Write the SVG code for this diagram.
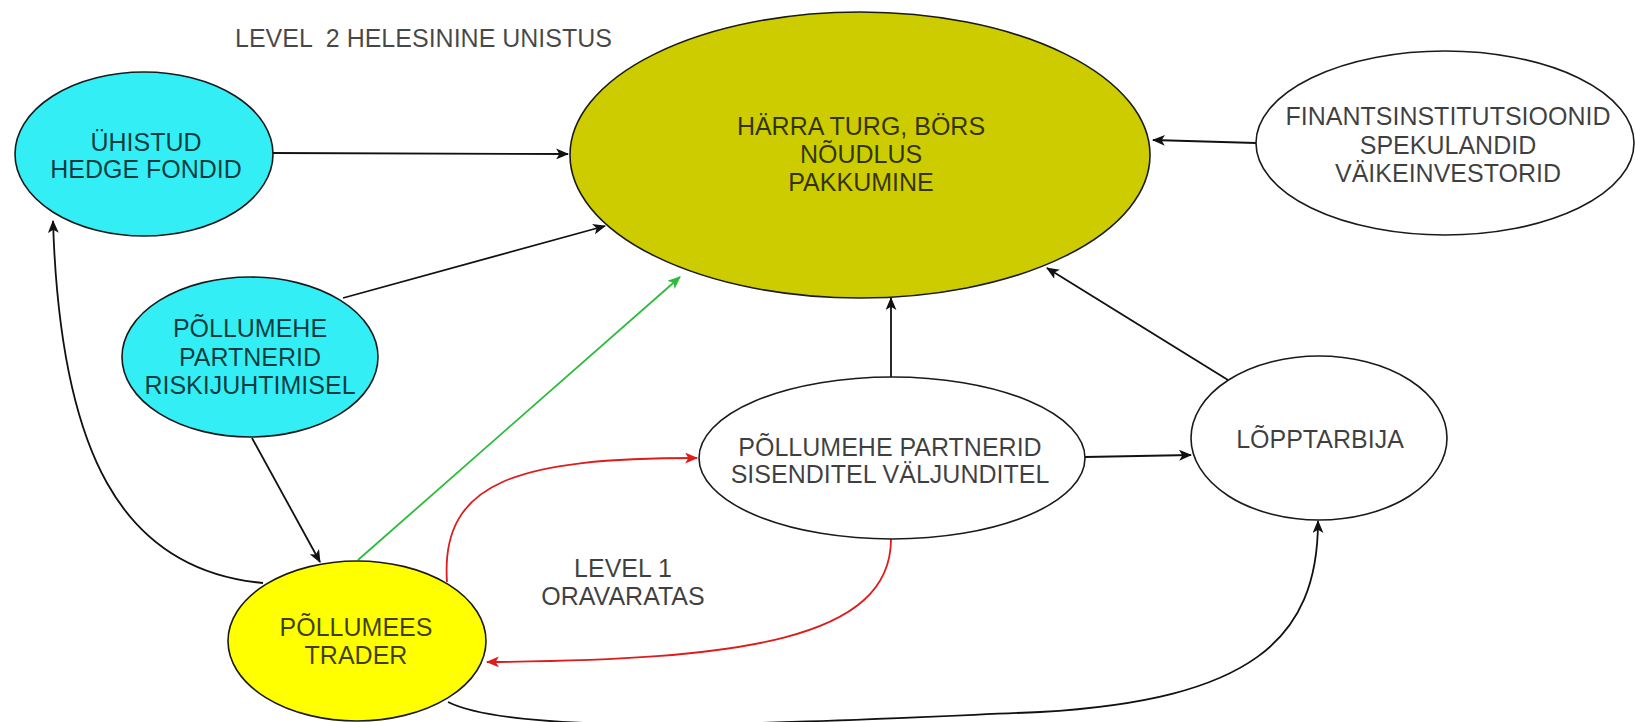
<svg xmlns="http://www.w3.org/2000/svg" width="1635" height="722" viewBox="0 0 1635 722">
<style>
  .node { stroke: #1a1a1a; stroke-width: 1.6; }
  .txt { font-family: "Liberation Sans", Arial, sans-serif; font-size: 25px; text-anchor: middle; fill: #000; fill-opacity: 0.75; }
  .lbl { font-family: "Liberation Sans", Arial, sans-serif; font-size: 25px; fill: #000; fill-opacity: 0.72; }
  .edge { fill: none; stroke-width: 1.8; }
  .blk { stroke: #111; }
  .red { stroke: #dd1c1c; }
  .grn { stroke: #2cbb3a; }
</style>
<defs>
  <marker id="ab" viewBox="0 0 12 10" refX="11" refY="5" markerWidth="13" markerHeight="11" markerUnits="userSpaceOnUse" orient="auto">
    <path d="M0,0 L12,5 L0,10 L3,5 Z" fill="#111"/>
  </marker>
  <marker id="ar" viewBox="0 0 12 10" refX="11" refY="5" markerWidth="13" markerHeight="11" markerUnits="userSpaceOnUse" orient="auto">
    <path d="M0,0 L12,5 L0,10 L3,5 Z" fill="#dd1c1c"/>
  </marker>
  <marker id="ag" viewBox="0 0 12 10" refX="11" refY="5" markerWidth="13" markerHeight="11" markerUnits="userSpaceOnUse" orient="auto">
    <path d="M0,0 L12,5 L0,10 L3,5 Z" fill="#2cbb3a"/>
  </marker>
</defs>
<rect width="1635" height="722" fill="#ffffff"/>

<g id="connectors">
  <path class="edge blk" d="M272,153 L568,154" marker-end="url(#ab)"/>
  <path class="edge blk" d="M343,298 L605,226" marker-end="url(#ab)"/>
  <path class="edge grn" d="M358,560 L680,277" marker-end="url(#ag)"/>
  <path class="edge blk" d="M1256,143 L1153,140" marker-end="url(#ab)"/>
  <path class="edge blk" d="M891,377 L891,298" marker-end="url(#ab)"/>
  <path class="edge blk" d="M1228,380 L1047,268" marker-end="url(#ab)"/>
  <path class="edge blk" d="M1085,457 L1191,455" marker-end="url(#ab)"/>
  <path class="edge blk" d="M252,438 L320,562" marker-end="url(#ab)"/>
  <path class="edge blk" d="M263,583 C120,570 60,450 53,221" marker-end="url(#ab)"/>
  <path class="edge red" d="M447,582 C440,480 520,458 697,458" marker-end="url(#ar)"/>
  <path class="edge red" d="M891,539 C891,640 740,660 487,662" marker-end="url(#ar)"/>
  <path class="edge blk" d="M448,702 C520,738 800,722 1040,712 C1250,700 1318,640 1318,521" marker-end="url(#ab)"/>
</g>

<text class="lbl" x="235" y="47" xml:space="preserve">LEVEL  2 HELESININE UNISTUS</text>
<text class="txt" x="623" y="577" fill-opacity="0.72">LEVEL 1</text>
<text class="txt" x="623" y="605" fill-opacity="0.72">ORAVARATAS</text>

<g id="n-hedge">
  <ellipse class="node" cx="144" cy="154" rx="129" ry="82" fill="#33eff5"/>
  <text class="txt" x="146" y="151">ÜHISTUD</text>
  <text class="txt" x="146" y="178">HEDGE FONDID</text>
</g>
<g id="n-turg">
  <ellipse class="node" cx="860" cy="155" rx="290" ry="143" fill="#cccc00"/>
  <text class="txt" x="861" y="135">HÄRRA TURG, BÖRS</text>
  <text class="txt" x="861" y="163">NÕUDLUS</text>
  <text class="txt" x="861" y="191">PAKKUMINE</text>
</g>
<g id="n-finants">
  <ellipse class="node" cx="1445" cy="143" rx="189" ry="92" fill="#ffffff"/>
  <text class="txt" x="1448" y="125">FINANTSINSTITUTSIOONID</text>
  <text class="txt" x="1448" y="154">SPEKULANDID</text>
  <text class="txt" x="1448" y="182">VÄIKEINVESTORID</text>
</g>
<g id="n-risk">
  <ellipse class="node" cx="250" cy="357" rx="128" ry="80" fill="#33eff5"/>
  <text class="txt" x="250" y="337">PÕLLUMEHE</text>
  <text class="txt" x="250" y="366">PARTNERID</text>
  <text class="txt" x="250" y="394">RISKIJUHTIMISEL</text>
</g>
<g id="n-sisend">
  <ellipse class="node" cx="892" cy="458" rx="193" ry="81" fill="#ffffff"/>
  <text class="txt" x="890" y="456">PÕLLUMEHE PARTNERID</text>
  <text class="txt" x="890" y="483">SISENDITEL VÄLJUNDITEL</text>
</g>
<g id="n-lopp">
  <ellipse class="node" cx="1319" cy="438" rx="128" ry="82" fill="#ffffff"/>
  <text class="txt" x="1320" y="448">LÕPPTARBIJA</text>
</g>
<g id="n-trader">
  <ellipse class="node" cx="357" cy="641" rx="129" ry="80" fill="#ffff00"/>
  <text class="txt" x="356" y="636">PÕLLUMEES</text>
  <text class="txt" x="356" y="664">TRADER</text>
</g>
</svg>
